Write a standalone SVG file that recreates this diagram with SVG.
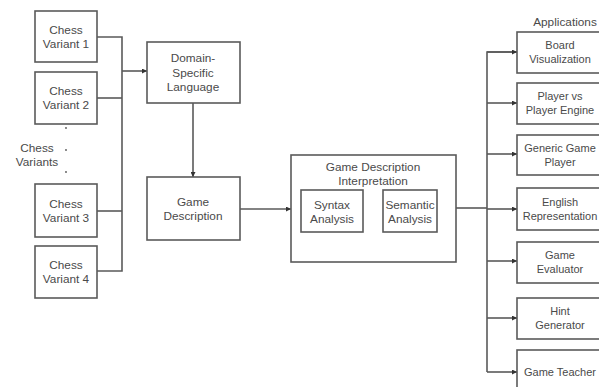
<svg xmlns="http://www.w3.org/2000/svg" width="599" height="387" viewBox="0 0 599 387">
  <style>
    .box { fill: #ffffff; stroke: #5a5a5a; stroke-width: 1.6; }
    .lbl { font-family: "Liberation Sans", Arial, sans-serif; font-size: 11.8px; fill: #4a4a4a; text-anchor: middle; }
    .app { font-size: 11px; }
    .ln { fill: none; stroke: #5a5a5a; stroke-width: 1.6; }
    .arr { fill: none; stroke: #5a5a5a; stroke-width: 1.6; marker-end: url(#ah); }
  </style>
  <defs>
    <marker id="ah" viewBox="0 0 10 10" refX="10" refY="5" markerWidth="5" markerHeight="5" orient="auto" markerUnits="userSpaceOnUse">
      <path d="M0,0 L10,5 L0,10 z" fill="#333333"/>
    </marker>
  </defs>
  <rect width="599" height="387" fill="#ffffff"/>

  <!-- connectors -->
  <g id="connectors">
    <path class="ln" d="M97,37 H122 V271 H97"/>
    <path class="ln" d="M97,98 H122"/>
    <path class="ln" d="M97,211 H122"/>
    <path class="arr" d="M122,71 H147"/>
    <path class="arr" d="M193,103 V177"/>
    <path class="arr" d="M240,209 H291"/>
    <path class="ln" d="M456,208 H487"/>
    <path class="ln" d="M517,52 H487 V372"/>
    <path class="arr" d="M487,52 H517"/>
    <path class="arr" d="M487,103 H517"/>
    <path class="arr" d="M487,154 H517"/>
    <path class="arr" d="M487,209 H517"/>
    <path class="arr" d="M487,261 H517"/>
    <path class="arr" d="M487,318 H517"/>
    <path class="arr" d="M487,372 H517"/>
  </g>

  <!-- inputs -->
  <g id="variant1"><rect class="box" x="35" y="11" width="62" height="51"/>
    <text class="lbl" x="66" y="34">Chess</text><text class="lbl" x="66" y="48">Variant 1</text></g>
  <g id="variant2"><rect class="box" x="35" y="72" width="62" height="52"/>
    <text class="lbl" x="66" y="95">Chess</text><text class="lbl" x="66" y="109">Variant 2</text></g>
  <g id="variants-label">
    <text class="lbl" x="37" y="152">Chess</text><text class="lbl" x="37" y="166">Variants</text>
    <circle cx="66" cy="128" r="0.9" fill="#555"/><circle cx="66" cy="150" r="0.9" fill="#555"/><circle cx="66" cy="172" r="0.9" fill="#555"/>
  </g>
  <g id="variant3"><rect class="box" x="35" y="184" width="62" height="53"/>
    <text class="lbl" x="66" y="208">Chess</text><text class="lbl" x="66" y="222">Variant 3</text></g>
  <g id="variant4"><rect class="box" x="35" y="246" width="62" height="52"/>
    <text class="lbl" x="66" y="269">Chess</text><text class="lbl" x="66" y="283">Variant 4</text></g>

  <g id="dsl"><rect class="box" x="147" y="42" width="93" height="61"/>
    <text class="lbl" x="193" y="62">Domain-</text><text class="lbl" x="193" y="77">Specific</text><text class="lbl" x="193" y="91">Language</text></g>
  <g id="game-description"><rect class="box" x="147" y="177" width="93" height="63"/>
    <text class="lbl" x="193" y="206">Game</text><text class="lbl" x="193" y="220">Description</text></g>

  <g id="interpretation"><rect class="box" x="291" y="155" width="165" height="107"/>
    <text class="lbl" x="373" y="171">Game Description</text><text class="lbl" x="373" y="185">Interpretation</text></g>
  <g id="syntax"><rect class="box" x="301" y="190" width="62" height="42"/>
    <text class="lbl" x="332" y="209">Syntax</text><text class="lbl" x="332" y="223">Analysis</text></g>
  <g id="semantic"><rect class="box" x="383" y="190" width="54" height="42"/>
    <text class="lbl" x="410" y="209">Semantic</text><text class="lbl" x="410" y="223">Analysis</text></g>

  <!-- applications -->
  <text class="lbl" x="565" y="26">Applications</text>
  <g id="app-board"><rect class="box" x="517" y="32" width="96" height="41"/>
    <text class="lbl app" x="560" y="49">Board</text><text class="lbl app" x="560" y="63">Visualization</text></g>
  <g id="app-pvp"><rect class="box" x="517" y="83" width="96" height="41"/>
    <text class="lbl app" x="560" y="100">Player vs</text><text class="lbl app" x="560" y="114">Player Engine</text></g>
  <g id="app-ggp"><rect class="box" x="517" y="135" width="96" height="40"/>
    <text class="lbl app" x="560" y="152">Generic Game</text><text class="lbl app" x="560" y="166">Player</text></g>
  <g id="app-english"><rect class="box" x="517" y="188" width="96" height="42"/>
    <text class="lbl app" x="560" y="206">English</text><text class="lbl app" x="560" y="220">Representation</text></g>
  <g id="app-evaluator"><rect class="box" x="517" y="242" width="96" height="41"/>
    <text class="lbl app" x="560" y="259">Game</text><text class="lbl app" x="560" y="273">Evaluator</text></g>
  <g id="app-hint"><rect class="box" x="517" y="298" width="96" height="41"/>
    <text class="lbl app" x="560" y="315">Hint</text><text class="lbl app" x="560" y="329">Generator</text></g>
  <g id="app-teacher"><rect class="box" x="517" y="350" width="96" height="45"/>
    <text class="lbl app" x="560" y="376">Game Teacher</text></g>
</svg>
